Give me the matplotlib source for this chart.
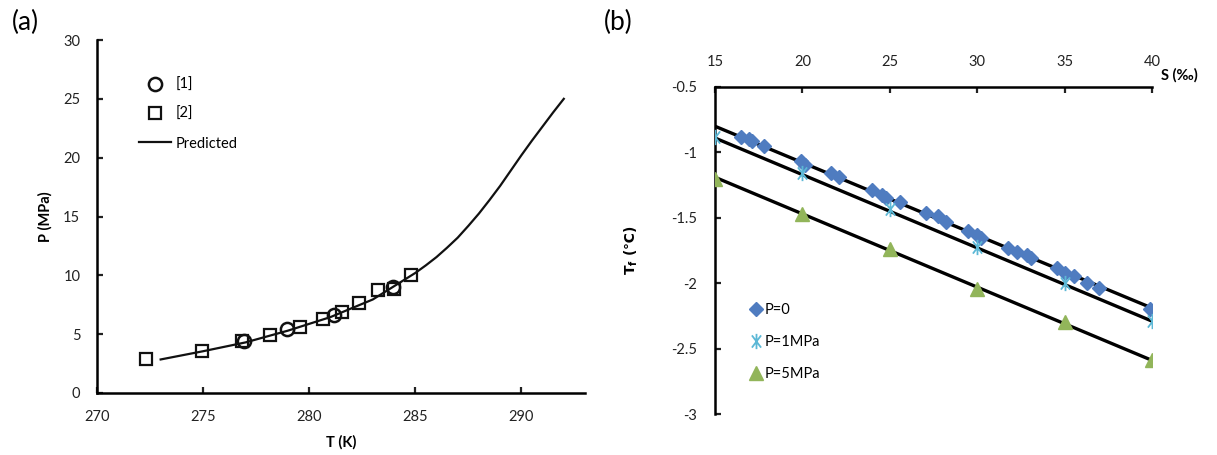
import numpy as np
import matplotlib
matplotlib.use('Agg')
import matplotlib.pyplot as plt
from matplotlib.path import Path

plt.rcParams['font.family'] = ['Lato', 'DejaVu Sans']
plt.rcParams['axes.unicode_minus'] = False

# ---- panel (a) data: hydrate equilibrium pressure vs temperature ----
ref1_T = [276.95, 278.95, 281.18, 283.93]
ref1_P = [4.4, 5.45, 6.6, 9.05]
ref2_T = [272.3, 274.95, 276.85, 278.15, 279.55, 280.65, 281.55, 282.35, 283.25, 284.0, 284.78]
ref2_P = [2.85, 3.55, 4.45, 4.95, 5.6, 6.25, 6.85, 7.65, 8.75, 8.85, 10.05]
pred_T = [273, 275, 277, 279, 281, 283, 285, 285.5, 286, 286.5, 287, 287.5, 288, 288.5,
          289, 289.5, 290, 290.5, 291, 291.5, 292]
pred_P = [2.85, 3.55, 4.3, 5.3, 6.45, 7.95, 10.2, 10.85, 11.55, 12.35, 13.2, 14.2, 15.25, 16.4,
          17.6, 18.9, 20.2, 21.45, 22.65, 23.85, 25.0]

# ---- panel (b) data: freezing temperature vs salinity ----
p0_S = [16.5, 16.97, 17.1, 17.8, 19.93, 20.17, 21.64, 22.1, 24.0, 24.54, 24.77, 25.57,
        27.06, 27.73, 28.2, 29.5, 30.0, 30.24, 31.76, 32.27, 32.84, 33.1,
        34.56, 35.04, 35.51, 36.28, 36.94, 39.9]
p0_T = [-0.88, -0.90, -0.915, -0.95, -1.063, -1.096, -1.155, -1.19, -1.287, -1.326, -1.35, -1.377,
        -1.46, -1.49, -1.53, -1.60, -1.63, -1.657, -1.733, -1.76, -1.785, -1.81,
        -1.886, -1.924, -1.945, -1.996, -2.034, -2.2]
p1_S = [15, 20, 25, 30, 35, 40]
p1_T = [-0.88, -1.16, -1.435, -1.72, -2.0, -2.29]
p5_S = [15, 20, 25, 30, 35, 40]
p5_T = [-1.2, -1.47, -1.74, -2.045, -2.30, -2.59]
fit_S = [15, 40]
fit_p0 = [-0.80, -2.19]
fit_p1 = [-0.89, -2.29]
fit_p5 = [-1.19, -2.59]

# Excel-style asterisk: vertical bar plus an X
star = Path([(0, -1), (0, 1), (-0.6, -0.8), (0.6, 0.8), (-0.6, 0.8), (0.6, -0.8)],
            [Path.MOVETO, Path.LINETO] * 3)

fig = plt.figure(figsize=(12.17, 4.55), dpi=100)
ax1 = fig.add_axes([97 / 1217, 62 / 455, 488 / 1217, 353 / 455])
ax2 = fig.add_axes([715 / 1217, 41 / 455, 437 / 1217, 327 / 455])

tick_kw = dict(direction='in', length=4, width=1.6, labelsize=10.5, colors='#222222')

# (a)
ax1.plot(ref1_T, ref1_P, 'o', ms=9.5, mfc='none', mec='#111111', mew=1.8, label='[1]', zorder=3)
ax1.plot(ref2_T, ref2_P, 's', ms=8, mfc='none', mec='#111111', mew=1.6, label='[2]', zorder=3)
ax1.plot(pred_T, pred_P, '-', color='#111111', lw=1.6, label='Predicted', zorder=2)
ax1.set_xlim(270, 293)
ax1.set_ylim(0, 30)
ax1.set_xticks(np.arange(270, 291, 5))
ax1.set_yticks(np.arange(0, 31, 5))
for s in ['top', 'right']:
    ax1.spines[s].set_visible(False)
for s in ['left', 'bottom']:
    ax1.spines[s].set_linewidth(1.8)
ax1.tick_params(axis='x', pad=12, **tick_kw)
ax1.tick_params(axis='y', pad=12, **tick_kw)
ax1.set_xlabel('T (K)', fontsize=10.5, fontweight='bold', labelpad=8)
ax1.set_ylabel('P (MPa)', fontsize=10.5, fontweight='bold', labelpad=8)
ax1.legend(loc='upper left', bbox_to_anchor=(0.06, 0.93), frameon=False, fontsize=10.5,
           handlelength=2.2, labelspacing=1.05, handletextpad=0.3)
fig.text(25 / 1217, 1 - 22 / 455, '(a)', fontsize=19, va='center', ha='center')

# (b)
ax2.plot(fit_S, fit_p0, '-', color='black', lw=2.4, zorder=2)
ax2.plot(fit_S, fit_p1, '-', color='black', lw=2.4, zorder=2)
ax2.plot(fit_S, fit_p5, '-', color='black', lw=2.4, zorder=2)
ax2.plot(p0_S, p0_T, 'D', ms=7.5, color='#4F7CC0', mec='#4F7CC0', label='P=0', zorder=3)
ax2.plot(p1_S, p1_T, marker=star, ls='none', ms=11, mfc='none', mec='#5CB8D6', mew=1.3,
         label='P=1MPa', zorder=3)
ax2.plot(p5_S, p5_T, '^', ms=9.5, color='#92B55A', label='P=5MPa', zorder=3)
ax2.set_xlim(15, 40)
ax2.set_ylim(-3, -0.5)
ax2.set_xticks(np.arange(15, 41, 5))
ax2.set_yticks(np.arange(-3, -0.49, 0.5))
ax2.set_yticklabels(['-3', '-2.5', '-2', '-1.5', '-1', '-0.5'])
ax2.xaxis.tick_top()
for s in ['bottom', 'right']:
    ax2.spines[s].set_visible(False)
for s in ['left', 'top']:
    ax2.spines[s].set_linewidth(1.8)
ax2.tick_params(axis='x', pad=13, **tick_kw)
ax2.tick_params(axis='y', pad=13, **tick_kw)
ax2.set_ylabel('T$_\\mathregular{f}$ (\u2103)', fontsize=10, fontweight='bold', labelpad=22,
               family='DejaVu Sans')
ax2.text(1.02, 1.035, 'S (\u2030)', transform=ax2.transAxes, fontsize=10.5, fontweight='bold',
         ha='left', va='center')
ax2.legend(loc='upper left', bbox_to_anchor=(0.05, 0.38), frameon=False, fontsize=10.5,
           handlelength=0.8, labelspacing=1.25, handletextpad=0.2)
fig.text(618 / 1217, 1 - 22 / 455, '(b)', fontsize=19, va='center', ha='center')

fig.savefig('out.png', dpi=100)
